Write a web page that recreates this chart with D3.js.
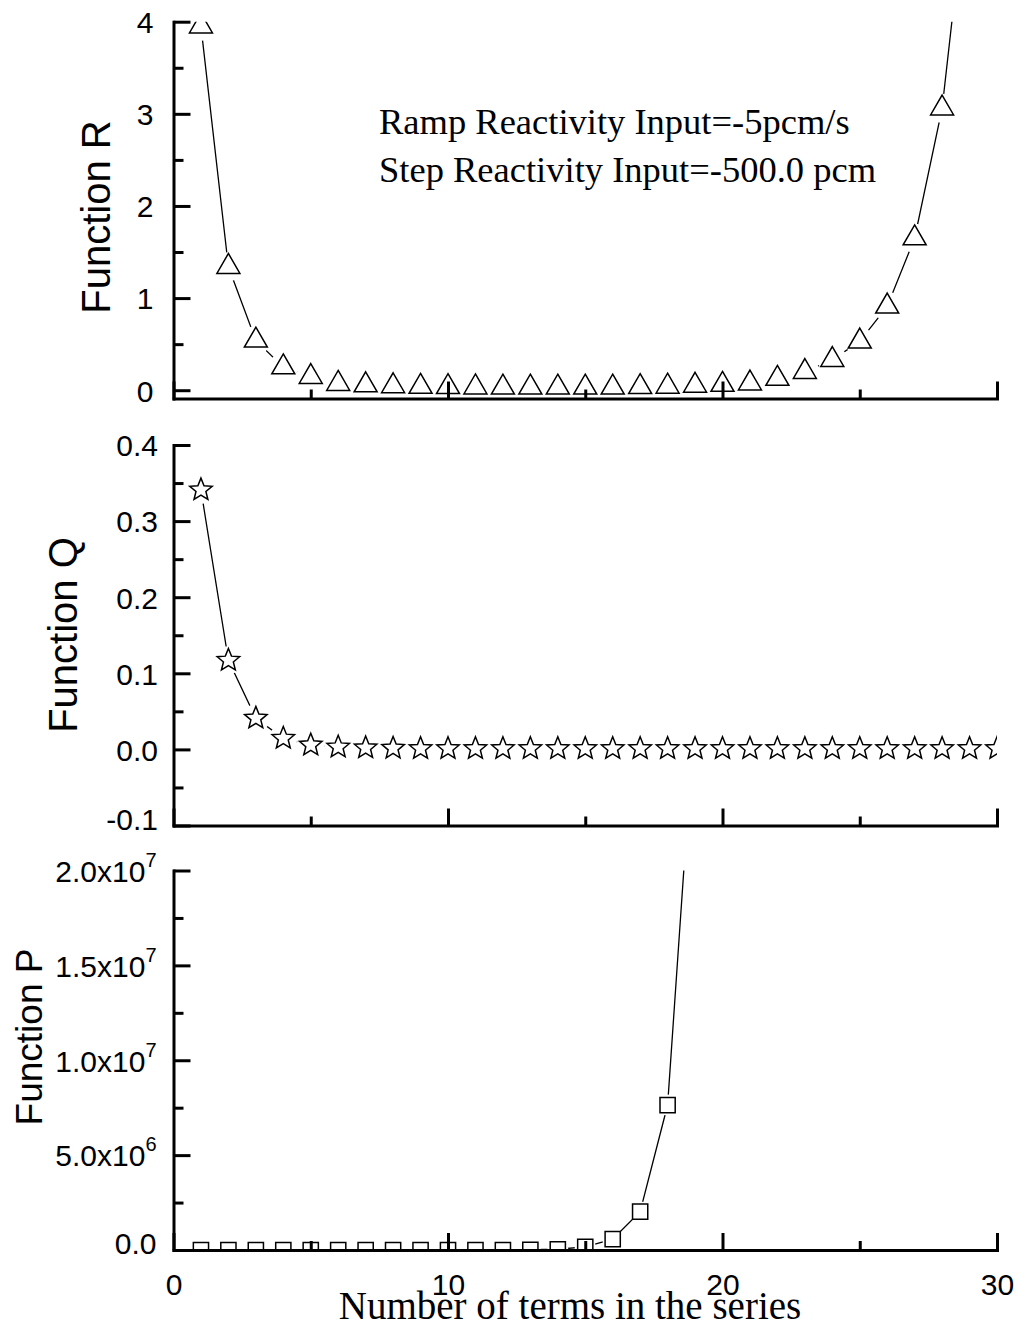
<!DOCTYPE html>
<html><head><meta charset="utf-8">
<script src="https://cdn.jsdelivr.net/npm/d3@7"></script>
<style>body{margin:0;background:#fff}</style></head>
<body>
<svg id="c" width="1021" height="1329"></svg>
<script>
// ---------- data ----------
const xDomain = [0, 30];
const xMajorTicks = [0, 10, 20, 30];
const xMinorTicks = [5, 15, 25];

const rTerms  = [1,2,3,4,5,6,7,8,9,10,11,12,13,14,15,16,17,18,19,20,21,22,23,24,25,26,27,28,29];
const rValues = [3.95,1.34,0.54,0.25,0.145,0.07,0.055,0.045,0.038,0.035,0.032,0.03,0.03,0.03,0.03,0.03,0.035,0.04,0.05,0.06,0.075,0.125,0.2,0.33,0.53,0.91,1.65,3.06,5.7];
const rDomain = [-0.09, 4];
const rMajorTicks = [0, 1, 2, 3, 4];
const rMinorTicks = [0.5, 1.5, 2.5, 3.5];

const qTerms  = [1,2,3,4,5,6,7,8,9,10,11,12,13,14,15,16,17,18,19,20,21,22,23,24,25,26,27,28,29,30];
const qValues = [0.341,0.117,0.041,0.0145,0.0057,0.003,0.002,0.0015,0.001,0.001,0.001,0.001,0.001,0.001,0.001,0.001,0.001,0.001,0.001,0.001,0.001,0.001,0.001,0.001,0.001,0.001,0.001,0.001,0.001,0.001];
const qDomain = [-0.1, 0.4];
const qMajorTicks = [-0.1, 0, 0.1, 0.2, 0.3, 0.4];
const qMinorTicks = [-0.05, 0.05, 0.15, 0.25, 0.35];

const pTerms  = [1,2,3,4,5,6,7,8,9,10,11,12,13,14,15,16,17,18,19];
const pValues = [0,0,0,0,0,0,0,0,0,0,0,0,12000,40000,160000,570000,2020000,7640000,28600000];
const pDomain = [0, 2.0e7];
const pMajorTicks = [0, 5e6, 1e7, 1.5e7, 2e7];
const pMinorTicks = [2.5e6, 7.5e6, 1.25e7, 1.75e7];
const pTickMantissa = ["0.0", "5.0x10", "1.0x10", "1.5x10", "2.0x10"];
const pTickExponent = ["", "6", "7", "7", "7"];

const annotation = ["Ramp Reactivity Input=-5pcm/s", "Step Reactivity Input=-500.0 pcm"];
const xTitle = "Number of terms in the series";

// ---------- drawing ----------
const SANS = "'Liberation Sans', Arial, sans-serif";
const SERIF = "'Liberation Serif', 'Times New Roman', serif";
const svg = d3.select("#c");
const X0 = 173.5, X1 = 997;
const x = d3.scaleLinear().domain(xDomain).range([X0, X1]);

function trianglePath() {
  const s = 23, h = s * Math.sqrt(3) / 2;
  return `M0,${-2*h/3}L${s/2},${h/3}L${-s/2},${h/3}Z`;
}
function starPath() {
  const R = 11.8, r = 5.2; let p = "";
  for (let i = 0; i < 10; i++) {
    const a = -Math.PI/2 + i * Math.PI/5, rad = i % 2 ? r : R;
    p += (i ? "L" : "M") + (rad*Math.cos(a)).toFixed(2) + "," + (rad*Math.sin(a)).toFixed(2);
  }
  return p + "Z";
}
function squarePath() { const h = 7.6; return `M${-h},${-h}H${h}V${h}H${-h}Z`; }
const fmt1 = d => d3.format(".1f")(d).replace("\u2212", "-");

let clipId = 0;
function panel(cfg) {
  const y = d3.scaleLinear().domain(cfg.domain).range([cfg.bottom, cfg.top]);
  const g = svg.append("g");
  const id = "clip" + (clipId++);
  g.append("clipPath").attr("id", id).append("rect")
    .attr("x", X0).attr("y", cfg.top).attr("width", X1 - X0).attr("height", cfg.bottom - cfg.top);
  const pts = cfg.terms.map((t, i) => [t, cfg.values[i]]);
  const plot = g.append("g").attr("clip-path", `url(#${id})`);
  plot.append("path").datum(pts)
    .attr("d", d3.line().x(d => x(d[0])).y(d => y(d[1])))
    .attr("fill", "none").attr("stroke", "#000").attr("stroke-width", 1.3);
  plot.selectAll("circle.gap").data(pts).join("circle")
    .attr("cx", d => x(d[0])).attr("cy", d => y(d[1])).attr("r", cfg.gap).attr("fill", "#fff");
  plot.selectAll("path.mk").data(pts).join("path").attr("class", "mk")
    .attr("transform", d => `translate(${x(d[0])},${y(d[1])})`)
    .attr("d", cfg.marker).attr("fill", "#fff").attr("stroke", "#000").attr("stroke-width", 1.5);

  // y axis
  const ya = g.append("g").attr("transform", `translate(${X0},0)`)
    .call(d3.axisLeft(y).tickValues(cfg.major).tickSize(-17).tickSizeOuter(0)
      .tickPadding(cfg.pad).tickFormat(cfg.fmt));
  g.append("g").attr("transform", `translate(${X0},0)`)
    .call(d3.axisLeft(y).tickValues(cfg.minor).tickSize(-10).tickFormat(""))
    .call(s => s.select(".domain").remove())
    .selectAll("line").attr("stroke-width", 3);
  ya.select(".domain").attr("stroke-width", 3).attr("stroke-linecap", "square");
  ya.selectAll("line").attr("stroke-width", 3);
  ya.selectAll("text").attr("font-family", SANS).attr("font-size", 30).attr("fill", "#000")
    .attr("dy", (d, i) => (i === 0 && cfg.lowShift) ? "0.12em" : "0.36em");
  if (cfg.after) cfg.after(ya);

  // x axis
  const xa = g.append("g").attr("transform", `translate(0,${cfg.bottom})`)
    .call(d3.axisBottom(x).tickValues(xMajorTicks).tickSize(-17).tickSizeOuter(0)
      .tickFormat(cfg.xLabels ? d3.format("d") : ""));
  g.append("g").attr("transform", `translate(0,${cfg.bottom})`)
    .call(d3.axisBottom(x).tickValues(xMinorTicks).tickSize(-9).tickFormat(""))
    .call(s => s.select(".domain").remove())
    .selectAll("line").attr("stroke-width", 3);
  xa.select(".domain").attr("stroke-width", 3).attr("stroke-linecap", "square");
  xa.selectAll("line").attr("stroke-width", 3);
  xa.selectAll("text").attr("font-family", SANS).attr("font-size", 30).attr("fill", "#000")
    .attr("dy", null).attr("y", 45);

  // y title
  svg.append("text").attr("transform", `translate(${cfg.titleX},${cfg.titleY}) rotate(-90)`)
    .attr("text-anchor", "middle").attr("font-family", SANS).attr("font-size", cfg.titleSize)
    .attr("fill", "#000").text(cfg.title);
  return y;
}

panel({ top: 21.7, bottom: 398.5, domain: rDomain, terms: rTerms, values: rValues,
  major: rMajorTicks, minor: rMinorTicks, fmt: d3.format("d"), pad: 20,
  marker: trianglePath(), gap: 14.5, title: "Function R", titleX: 110, titleY: 217, titleSize: 40 });

panel({ top: 445, bottom: 825.5, domain: qDomain, terms: qTerms, values: qValues,
  major: qMajorTicks, minor: qMinorTicks, fmt: fmt1, pad: 15.5, lowShift: true,
  marker: starPath(), gap: 14, title: "Function Q", titleX: 77, titleY: 635, titleSize: 40 });

panel({ top: 870.5, bottom: 1250, domain: pDomain, terms: pTerms, values: pValues,
  major: pMajorTicks, minor: pMinorTicks, fmt: d3.format("d"), pad: 17, lowShift: true,
  marker: squarePath(), gap: 10.5, xLabels: true,
  title: "Function P", titleX: 41.5, titleY: 1037, titleSize: 37,
  after: ya => ya.selectAll(".tick text").each(function(d, i) {
    const t = d3.select(this); t.text(null);
    t.append("tspan").text(pTickMantissa[i]);
    if (pTickExponent[i]) t.append("tspan").attr("dy", -15).attr("font-size", 20).text(pTickExponent[i]);
  }) });

// annotation
svg.append("g").selectAll("text").data(annotation).join("text")
  .attr("x", 379).attr("y", (d, i) => 133.5 + i * 48)
  .attr("font-family", SERIF).attr("font-size", 36.5).attr("fill", "#000").text(d => d);

// x title
svg.append("text").attr("x", 570).attr("y", 1319).attr("text-anchor", "middle")
  .attr("font-family", SERIF).attr("font-size", 39).attr("fill", "#000").text(xTitle);
</script>
</body></html>
